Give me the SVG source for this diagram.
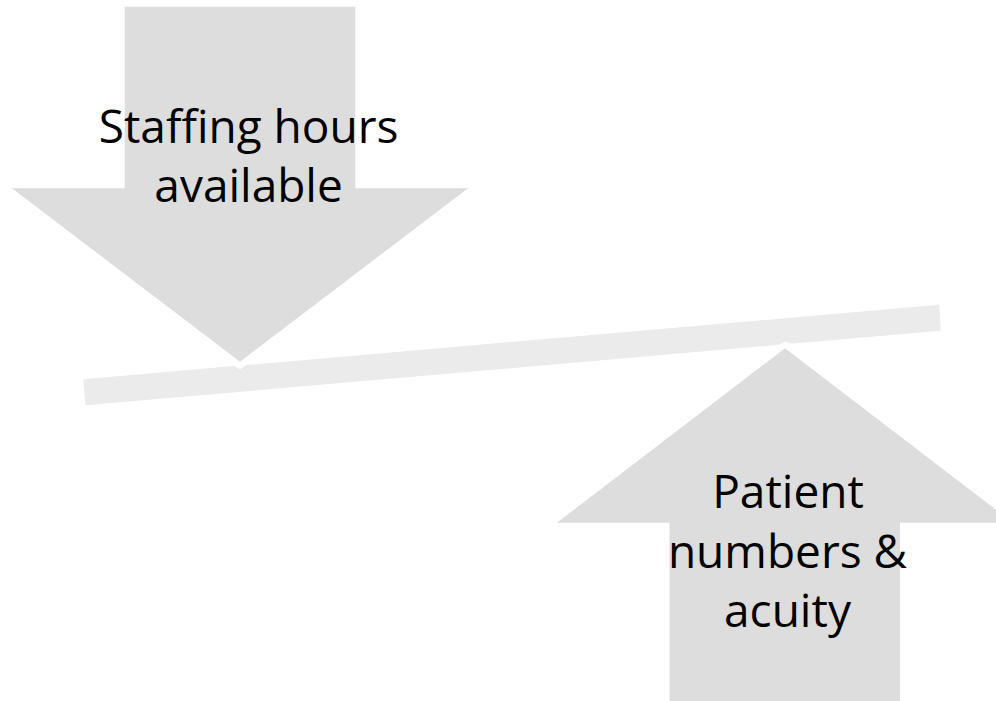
<svg xmlns="http://www.w3.org/2000/svg" width="996" height="701" viewBox="0 0 996 701">
  <style>
    .arrow { fill: #dddddd; }
    .beam { fill: #ebebeb; }
    .label { font-family: "Open Sans", "Noto Sans", "Liberation Sans", sans-serif; font-size: 46px; fill: #000000; text-anchor: middle; }
  </style>
  <rect width="996" height="701" fill="#ffffff"/>

  <!-- tilted balance beam, with small notches where the arrows press on it -->
  <g id="beam">
    <polygon class="beam" points="83.3,379.2 234,366.1 240,369.3 246,365.1 939.3,304.7 940.8,330.7 791,343.8 785,341.6 779,344.8 85.5,405.3"/>
  </g>

  <!-- downward push: staffing -->
  <g id="staffing">
    <polygon class="arrow" points="124.7,6.7 355.3,6.7 355.3,188.3 468,188.3 240,361.7 12,188.3 124.7,188.3"/>
    <text class="label" x="248.6" y="143.3">Staffing hours</text>
    <text class="label" x="248.6" y="202.3">available</text>
  </g>

  <!-- upward push: patient demand -->
  <g id="demand">
    <polygon class="arrow" points="785,348.3 1013,522.7 900,522.7 900,701 669.5,701 669.5,522.7 557,522.7"/>
    <text class="label" x="788" y="508.3">Patient</text>
    <text class="label" x="787.5" y="567.8">numbers &amp;</text>
    <text class="label" x="787.5" y="626.7">acuity</text>
  </g>
</svg>
